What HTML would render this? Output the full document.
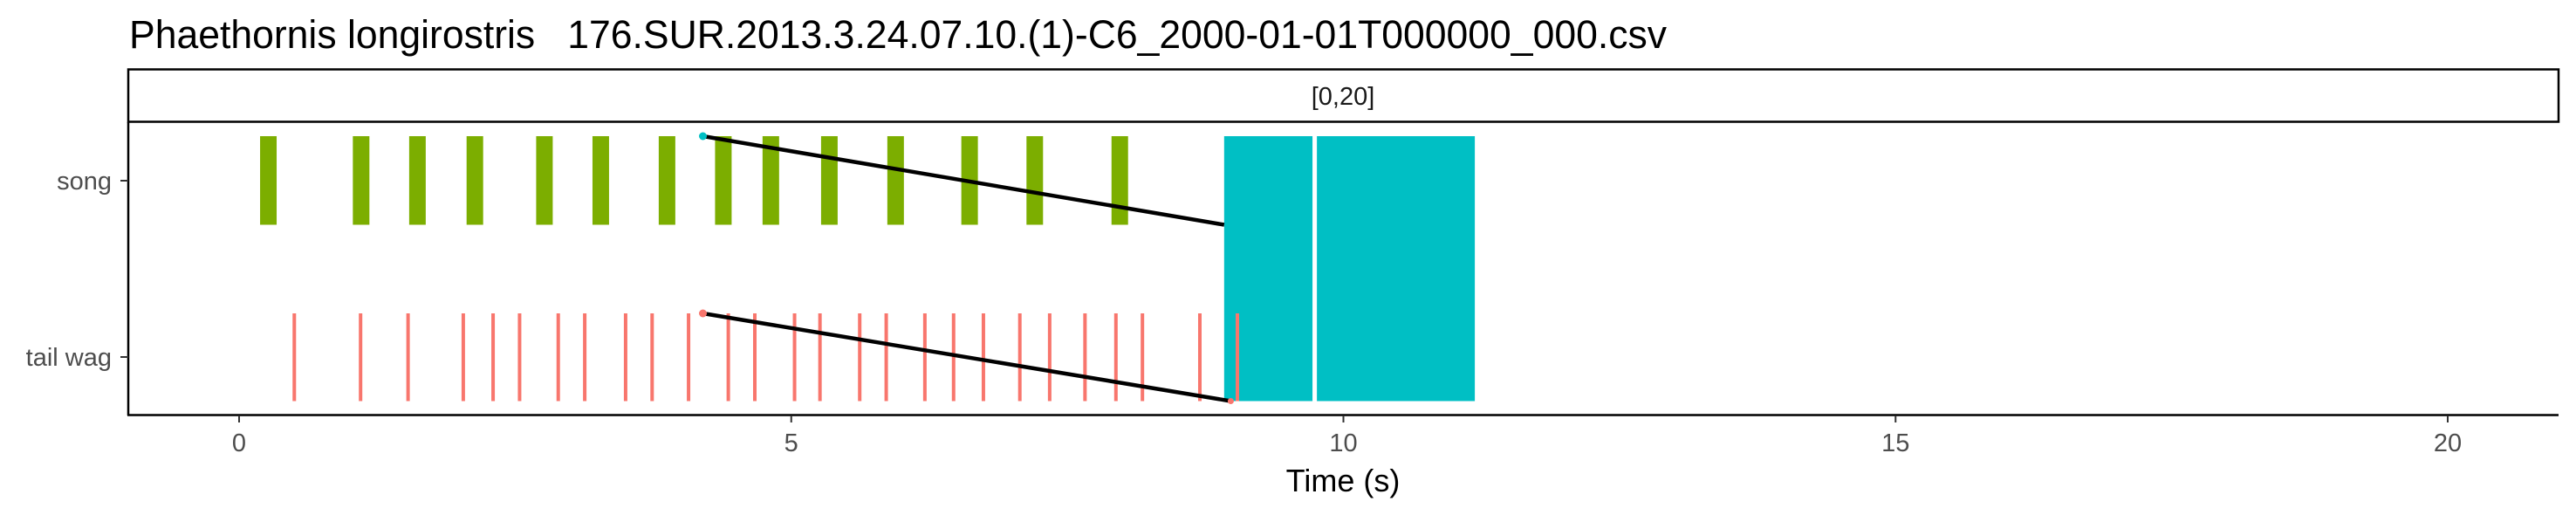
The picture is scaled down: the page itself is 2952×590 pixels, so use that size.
<!DOCTYPE html>
<html><head><meta charset="utf-8"><style>html,body{margin:0;padding:0;background:#fff}svg{display:block;font-family:"Liberation Sans",sans-serif}text{white-space:pre}</style></head>
<body>
<svg id="chart" width="2952" height="590" viewBox="0 0 2952 590" xmlns="http://www.w3.org/2000/svg">
<text x="148" y="55" font-size="45" fill="#000" xml:space="preserve" textLength="1762" lengthAdjust="spacingAndGlyphs">Phaethornis longirostris   176.SUR.2013.3.24.07.10.(1)-C6_2000-01-01T000000_000.csv</text>
<rect x="147" y="79.5" width="2785" height="60" fill="#fff" stroke="#000" stroke-width="2.5"/>
<text x="1539" y="120" font-size="29" fill="#1a1a1a" text-anchor="middle">[0,20]</text>
<g id="marks"></g>
<line x1="147" y1="140" x2="147" y2="476" stroke="#000" stroke-width="2.5"/>
<line x1="146" y1="475.5" x2="2932" y2="475.5" stroke="#000" stroke-width="2.5"/>
<g id="axes"></g>
<text x="1539" y="563" font-size="36" fill="#000" text-anchor="middle">Time (s)</text>
</svg>
<script>
const songStarts=[0.19,1.03,1.54,2.06,2.69,3.20,3.80,4.31,4.74,5.27,5.87,6.54,7.13,7.90];
const songWidth=0.15;
const tailTimes=[0.50,1.10,1.53,2.03,2.30,2.54,2.89,3.13,3.50,3.74,4.07,4.43,4.67,5.03,5.26,5.62,5.86,6.21,6.47,6.74,7.07,7.34,7.66,7.94,8.18,8.70,9.04];
const blockStarts=[8.92,9.76];
const blockEnds=[9.72,11.19];
const songLink=[4.20,8.92];
const tailLink=[4.20,8.98];
const xTicks=[0,5,10,15,20];
const yCats=["song","tail wag"];

const NS="http://www.w3.org/2000/svg";
const X=t=>274+t*126.55;
const rowTop={song:156,"tail wag":359};
const rowBot={song:257.5,"tail wag":459.5};
const rowMid={song:207,"tail wag":409};
const marks=document.getElementById('marks'), axes=document.getElementById('axes');
function mk(tag,attrs,parent){const e=document.createElementNS(NS,tag);for(const k in attrs)e.setAttribute(k,attrs[k]);parent.appendChild(e);return e;}

blockStarts.forEach((s,i)=>{
  const r=mk('rect',{x:X(s),y:rowTop.song,width:X(blockEnds[i])-X(s),height:rowBot["tail wag"]-rowTop.song,fill:'#00bfc4'},marks);
  
  
});
songStarts.forEach((s,i)=>{
  const r=mk('rect',{x:X(s),y:rowTop.song,width:X(s+songWidth)-X(s),height:rowBot.song-rowTop.song,fill:'#7cae00'},marks);
  
  
});
tailTimes.forEach((t,i)=>{
  const l=mk('line',{x1:X(t),x2:X(t),y1:rowTop["tail wag"],y2:rowBot["tail wag"],stroke:'#f8766d','stroke-width':4},marks);
  
  
});
const l1=mk('line',{x1:X(songLink[0]),y1:rowTop.song,x2:X(songLink[1]),y2:rowBot.song,stroke:'#000','stroke-width':4.5},marks);


const l2=mk('line',{x1:X(tailLink[0]),y1:rowTop["tail wag"],x2:X(tailLink[1]),y2:rowBot["tail wag"],stroke:'#000','stroke-width':4.5},marks);


const p1=mk('circle',{cx:X(songLink[0]),cy:rowTop.song,r:4.5,fill:'#00bfc4'},marks);


const p2=mk('circle',{cx:X(tailLink[0]),cy:rowTop["tail wag"],r:4.5,fill:'#f8766d'},marks);


const p3=mk('circle',{cx:X(tailLink[1]),cy:rowBot["tail wag"],r:3.5,fill:'#f8766d'},marks);



xTicks.forEach(v=>{
  const t=mk('line',{x1:X(v),x2:X(v),y1:476,y2:484,stroke:'#333','stroke-width':2},axes);
  
  
  const tx=mk('text',{x:X(v),y:517,'font-size':29,fill:'#4d4d4d','text-anchor':'middle'},axes);
  tx.textContent=String(v);
  
  
});
yCats.forEach(c=>{
  const t=mk('line',{x1:138,x2:147,y1:rowMid[c],y2:rowMid[c],stroke:'#333','stroke-width':2},axes);
  
  
  const tx=mk('text',{x:128,y:rowMid[c]+10,'font-size':29,fill:'#4d4d4d','text-anchor':'end'},axes);
  tx.textContent=c;
  
  
});
</script>
</body></html>
